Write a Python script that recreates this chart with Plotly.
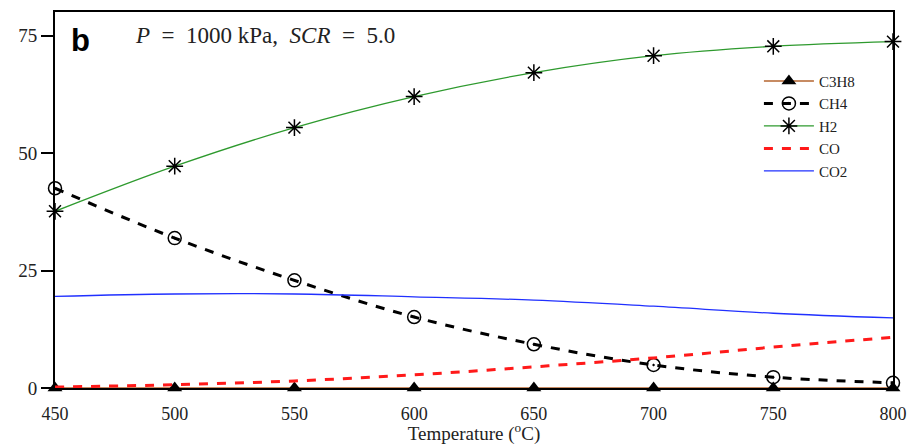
import plotly.graph_objects as go

temps = [450, 500, 550, 600, 650, 700, 750, 800]
c3h8 = [0, 0, 0, 0, 0, 0, 0, 0]
ch4 = [42.5, 31.9, 22.9, 15.1, 9.3, 4.9, 2.3, 1.1]
h2 = [37.6, 47.2, 55.4, 62.0, 67.1, 70.7, 72.7, 73.7]
co = [0.2, 0.7, 1.5, 2.8, 4.5, 6.4, 8.7, 10.8]
co2 = [19.5, 20.0, 20.0, 19.4, 18.7, 17.4, 15.9, 14.9]
y_ticks = [0, 25, 50, 75]

font = "Liberation Serif"
fig = go.Figure()
fig.add_trace(go.Scatter(x=temps, y=c3h8, name="C3H8", mode="lines+markers",
                         line=dict(color="#b5652f", width=1.5),
                         marker=dict(symbol="triangle-up", size=13, color="black"),
                         cliponaxis=False))
fig.add_trace(go.Scatter(x=temps, y=ch4, name="CH4", mode="lines+markers",
                         line=dict(color="black", width=3, dash="dash", shape="spline"),
                         marker=dict(symbol="circle-open-dot", size=13, color="black",
                                     line=dict(width=1.5, color="black")),
                         cliponaxis=False))
fig.add_trace(go.Scatter(x=temps, y=h2, name="H2", mode="lines+markers",
                         line=dict(color="#2e9a2e", width=1.3, shape="spline"),
                         marker=dict(symbol="asterisk-open", size=14, color="black",
                                     line=dict(width=1.5, color="black")),
                         cliponaxis=False))
fig.add_trace(go.Scatter(x=temps, y=co, name="CO", mode="lines",
                         line=dict(color="#ff1a1a", width=3, dash="dash", shape="spline"),
                         cliponaxis=False))
fig.add_trace(go.Scatter(x=temps, y=co2, name="CO2", mode="lines",
                         line=dict(color="#2030ff", width=1.3, shape="spline"),
                         cliponaxis=False))

fig.add_annotation(x=0.017, y=0.975, xref="paper", yref="paper", xanchor="left", yanchor="top",
                   text="<b>b</b>", showarrow=False,
                   font=dict(family="Liberation Sans", size=31, color="black"))
fig.add_annotation(x=0.093, y=0.975, xref="paper", yref="paper", xanchor="left", yanchor="top",
                   text="<i>P</i>  =  1000 kPa,  <i>SCR</i>  =  5.0", showarrow=False,
                   font=dict(family=font, size=23, color="#222"))

fig.update_layout(
    width=912, height=445,
    margin=dict(l=55, r=19, t=12, b=57),
    paper_bgcolor="white", plot_bgcolor="white",
    font=dict(family=font, size=19, color="#222"),
    showlegend=True,
    legend=dict(x=0.84, y=0.86, xanchor="left", yanchor="top",
                bgcolor="rgba(0,0,0,0)", font=dict(family=font, size=15, color="#222"),
                tracegroupgap=0, itemwidth=50),
    xaxis=dict(range=[450, 800], tickvals=temps, showgrid=False, zeroline=False,
               showline=True, linecolor="black", linewidth=2, mirror=True,
               ticks="outside", ticklen=8, tickcolor="rgba(0,0,0,0)",
               tickfont=dict(size=18), automargin=False,
               title=dict(text="Temperature (<sup>o</sup>C)", standoff=4,
                          font=dict(family=font, size=19))),
    yaxis=dict(range=[0, 80], tickvals=y_ticks, showgrid=False, zeroline=False,
               showline=True, linecolor="black", linewidth=2, mirror=True,
               ticks="outside", ticklen=12, tickwidth=1.5, tickcolor="black",
               tickfont=dict(size=19), automargin=False),
)
fig.write_html("out.html", config={"displayModeBar": False},
               post_script="document.body.style.margin='0';")
